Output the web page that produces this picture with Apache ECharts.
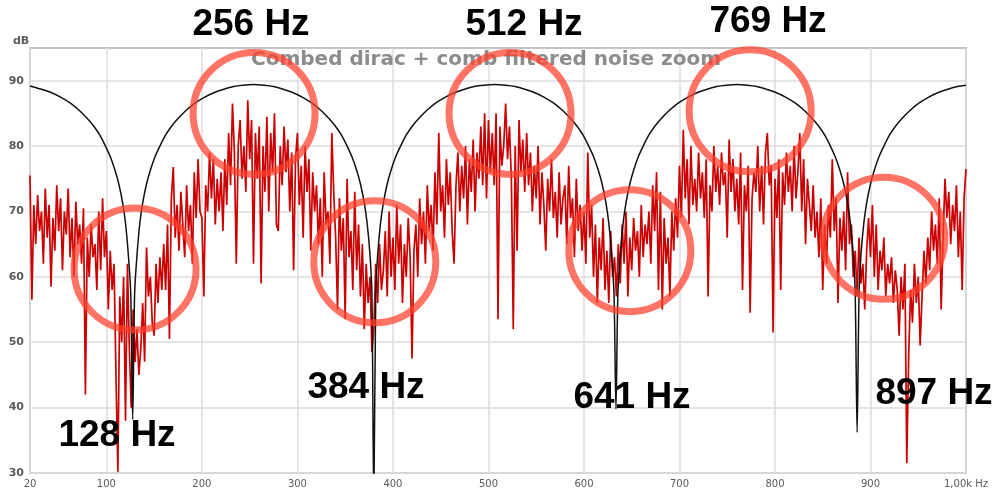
<!DOCTYPE html>
<html>
<head>
<meta charset="utf-8">
<script src="https://cdn.jsdelivr.net/npm/echarts@6/dist/echarts.min.js"></script>
<style>
  html, body { margin: 0; padding: 0; background: #ffffff; }
  #chart { width: 996px; height: 491px; }
</style>
</head>
<body>
<div id="chart"></div>
<script>
// Comb filtered noise: measured level every 2 Hz from 20 Hz to 1 kHz (dB)
const noiseStartHz = 20;
const noiseStepHz = 2;
const noiseDb = [
  75.5, 56.5, 71, 65, 72.5, 67, 70, 62, 73.5, 66,      // 20
  71, 58.5, 69, 64, 74, 67, 72, 61, 70, 66.5,          // 40
  73.5, 63, 69, 60, 71.5, 65, 68, 62, 70.5, 42,        // 60
  66, 60, 68, 63, 65, 58, 70, 61, 72, 63,              // 80
  67, 55, 64, 58, 62, 45, 30.2, 57, 50, 60,            // 100
  38, 62, 49, 40, 55, 47, 52, 45, 49, 56,              // 120
  47, 64.5, 57, 60, 53, 51, 62, 56, 63, 58,            // 140
  65, 58, 68, 50.5, 72, 76.8, 66, 71, 64, 73,          // 160
  68, 63, 74, 67, 71, 62, 76, 69, 78, 70,              // 180
  69, 57, 74, 70, 79, 72, 78, 68, 75, 70,              // 200
  76, 67, 78, 71, 82, 74, 86.5, 79, 62, 80,            // 220
  84, 75, 80, 73, 87, 78, 84, 62, 82, 75,              // 240
  83, 59, 80, 73, 84.5, 70, 82, 76, 85, 68,            // 260
  67, 80, 74, 83, 76, 81, 70, 79, 61, 78,              // 280
  82, 71, 77, 66, 80, 73, 78, 64, 76, 70,              // 300
  74, 65, 72, 60, 76, 68, 70, 62, 82, 73,              // 320
  66, 55, 72, 64, 69, 53.5, 75, 63, 67, 58,            // 340
  73, 61, 68, 57, 65, 52, 62, 56, 60, 48.5,            // 360
  52, 62, 56, 65, 58, 61, 67, 57, 70, 60,              // 380
  66, 58, 71, 62, 68, 56, 65, 60, 69, 63,              // 400
  47.5, 64, 68, 60, 72, 65, 70, 62, 74, 67,            // 420
  71, 64, 76, 68, 82, 70, 74, 66, 78, 71,              // 440
  76, 67, 62, 74, 79, 70, 77, 72, 80, 68,              // 460
  78, 73, 81, 70, 79, 75, 83, 74, 85, 72,              // 480
  84, 76, 82, 74, 85, 53.5, 83, 77, 80, 86.5,          // 500
  78, 83, 75, 52, 80, 64, 84, 76, 81, 73,              // 520
  82, 74, 79, 70, 77, 72, 80, 68, 76, 71,              // 540
  64, 75, 70, 78, 69, 73, 66, 76, 68, 72,              // 560
  74, 65, 77, 69, 72, 63, 75, 67, 71, 64,              // 580
  70, 62, 79, 66, 71, 60, 68, 56, 66, 61,              // 600
  69, 58, 64, 56, 67, 60, 63, 57, 65, 59,              // 620
  68, 62, 70, 57, 66, 61, 69, 64, 67, 60,              // 640
  71, 63, 68, 65, 70, 62, 74, 67, 76, 58,              // 660
  73, 55, 69, 62, 66, 57, 70, 64, 72, 66,              // 680
  77, 69, 82.5, 72, 78, 68, 80, 71, 75, 70,            // 700
  79, 72, 76, 69, 78, 57, 74, 70, 80, 73,              // 720
  77, 71, 79, 74, 76, 66, 81, 73, 78, 70,              // 740
  75, 68, 79, 58, 74, 70, 77, 54.5, 72, 76,            // 760
  73, 80, 70, 77, 68, 79, 82, 74, 77, 51.5,            // 780
  75, 69, 78, 58, 76, 71, 79, 73, 77, 70,              // 800
  80, 72, 76, 82, 70, 78, 65, 75, 71, 67,              // 820
  74, 66, 70, 63, 72, 58, 68, 62, 71, 66,              // 840
  78, 67, 72, 56, 69, 64, 70, 61, 76, 65,              // 860
  68, 60, 64, 57, 66, 59, 62, 55, 64, 69,              // 880
  63, 71, 60, 68, 58, 64, 61, 66, 57, 62,              // 900
  59, 63, 56, 61, 58, 51, 60, 55, 62, 31.5,            // 920
  48, 58, 53, 62, 56, 60, 49.5, 57, 64, 59,            // 940
  66, 61, 70, 64, 68, 62, 72, 55, 66, 75,              // 960
  69, 73, 65, 71, 67, 74, 63, 70, 58, 72,              // 980
  76.5                                                 // 1000
];

// Combed dirac response (Hz, dB)
const combHz = [
  20, 32, 42, 52, 62, 72, 80, 87, 93, 99, 104, 109, 113, 117, 120, 123, 125.5, 127.5,
  129.5, 132, 135, 138, 142, 146, 151, 156, 162, 168, 175, 183, 193, 203, 213, 223, 233, 243, 254,
  265, 275, 285, 295, 305, 315, 325, 333, 340, 346, 352, 357, 362, 366, 370, 373, 376, 378, 380,
  382, 384, 387, 390, 394, 398, 403, 408, 414, 420, 427, 435, 445, 455, 465, 475, 485, 495, 507,
  518, 528, 538, 548, 558, 568, 578, 586, 593, 599, 605, 610, 615, 619, 623, 626, 629, 631.5, 633.5,
  635.5, 638, 641, 644, 648, 652, 657, 662, 668, 674, 681, 689, 699, 709, 719, 729, 739, 749, 760,
  771, 781, 791, 801, 811, 821, 831, 839, 846, 852, 858, 863, 868, 872, 876, 879, 882, 884, 886,
  888, 890, 893, 896, 900, 904, 909, 914, 920, 926, 933, 941, 951, 961, 971, 981, 991, 1000
];
const combDb = [
  89.2, 88.7, 88.2, 87.5, 86.6, 85.4, 84.2, 83.0, 81.7, 80.0, 78.4, 76.3, 74.2, 71.3, 68.2, 63.3, 57.3, 38.2,
  57.3, 63.3, 68.2, 71.3, 74.2, 76.3, 78.4, 80.0, 81.7, 83.0, 84.2, 85.4, 86.6, 87.5, 88.2, 88.7, 89.1, 89.3, 89.4,
  89.3, 89.1, 88.7, 88.2, 87.5, 86.6, 85.4, 84.2, 83.0, 81.7, 80.0, 78.4, 76.3, 74.2, 71.3, 68.2, 63.3, 57.3, 25,
  57.3, 63.3, 68.2, 71.3, 74.2, 76.3, 78.4, 80.0, 81.7, 83.0, 84.2, 85.4, 86.6, 87.5, 88.2, 88.7, 89.1, 89.3, 89.4,
  89.3, 89.1, 88.7, 88.2, 87.5, 86.6, 85.4, 84.2, 83.0, 81.7, 80.0, 78.4, 76.3, 74.2, 71.3, 68.2, 63.3, 57.3, 39.8,
  57.3, 63.3, 68.2, 71.3, 74.2, 76.3, 78.4, 80.0, 81.7, 83.0, 84.2, 85.4, 86.6, 87.5, 88.2, 88.7, 89.1, 89.3, 89.4,
  89.3, 89.1, 88.7, 88.2, 87.5, 86.6, 85.4, 84.2, 83.0, 81.7, 80.0, 78.4, 76.3, 74.2, 71.3, 68.2, 63.3, 57.3, 36.2,
  57.3, 63.3, 68.2, 71.3, 74.2, 76.3, 78.4, 80.0, 81.7, 83.0, 84.2, 85.4, 86.6, 87.5, 88.2, 88.7, 89.1, 89.3
];

// Axis ticks
const xTickHz = [20, 100, 200, 300, 400, 500, 600, 700, 800, 900, 1000];
const yTickDb = [30, 40, 50, 60, 70, 80, 90];

// Highlighted regions (centre in Hz / dB) and their frequency captions
const ringHz = [130, 254.6, 381, 522.6, 648, 774, 914];
const ringDb = [61.2, 85.0, 62.3, 85.0, 64.0, 85.4, 65.9];
const captionText = ['128 Hz', '256 Hz', '384 Hz', '512 Hz', '641 Hz', '769 Hz', '897 Hz'];

// Caption placement on the canvas (px)
const captionPos = [[117, 436], [251, 25], [366, 388], [524, 25], [632, 398], [768, 22], [934, 394]];

const chart = echarts.init(document.getElementById('chart'), null, { renderer: 'canvas' });

const noisePoints = noiseDb.map((v, i) => [noiseStartHz + i * noiseStepHz, v]);
const combPoints = combHz.map((f, i) => [f, combDb[i]]);

const gridColor = '#dcdcdc';
const labelStyle = { color: '#5a5a5a', fontSize: 11, fontFamily: 'DejaVu Sans' };

chart.setOption({
  animation: false,
  backgroundColor: '#ffffff',
  grid: {
    left: 30, right: 30, top: 48, bottom: 18,
    show: true, borderColor: '#c4c4c4', borderWidth: 2, backgroundColor: 'transparent'
  },
  xAxis: {
    type: 'value', min: 20, max: 1000,
    axisLine: { show: false },
    axisTick: { show: false, customValues: xTickHz },
    axisLabel: {
      customValues: xTickHz, margin: 6, ...labelStyle, fontSize: 10,
      formatter: v => (v === 1000 ? '1,00k Hz' : String(v))
    },
    splitLine: { show: true, lineStyle: { color: gridColor, width: 1.5 } }
  },
  yAxis: {
    type: 'value', min: 30, max: 95,
    axisLine: { show: false },
    axisTick: { show: false, customValues: yTickDb },
    axisLabel: { customValues: yTickDb, margin: 6, ...labelStyle, fontWeight: 'bold' },
    splitLine: { show: true, lineStyle: { color: gridColor, width: 1.5 } }
  },
  series: [
    {
      name: 'noise', type: 'line', data: noisePoints, showSymbol: false,
      lineStyle: { color: '#cc0000', width: 1.7 }, z: 2
    },
    {
      name: 'dirac', type: 'line', data: combPoints, showSymbol: false, smooth: 0.3,
      lineStyle: { color: '#111111', width: 1.5 }, z: 3
    }
  ]
});

// Rings, captions and title drawn on top of the plot
const graphics = [];
graphics.push({
  type: 'text', left: 13, top: 36, z: 50,
  style: { text: 'dB', fill: '#5a5a5a', font: 'bold 11px "DejaVu Sans"' }
});
graphics.push({
  type: 'text', x: 486, y: 60, z: 50,
  style: {
    text: 'Combed dirac + comb filtered noise zoom', fill: 'rgba(120,120,120,0.85)',
    font: 'bold 20px "DejaVu Sans"', align: 'center', verticalAlign: 'middle'
  }
});
ringHz.forEach((f, i) => {
  const p = chart.convertToPixel({ gridIndex: 0 }, [f, ringDb[i]]);
  graphics.push({
    type: 'circle', z: 60, silent: true,
    shape: { cx: p[0], cy: p[1], r: 61 },
    style: { fill: 'none', stroke: 'rgba(255,62,42,0.72)', lineWidth: 7 }
  });
});
captionText.forEach((t, i) => {
  graphics.push({
    type: 'text', x: captionPos[i][0], y: captionPos[i][1], z: 70,
    style: {
      text: t, fill: '#000000', font: 'bold 37px "Liberation Sans"',
      align: 'center', verticalAlign: 'middle'
    }
  });
});
chart.setOption({ graphic: graphics });
</script>
</body>
</html>
